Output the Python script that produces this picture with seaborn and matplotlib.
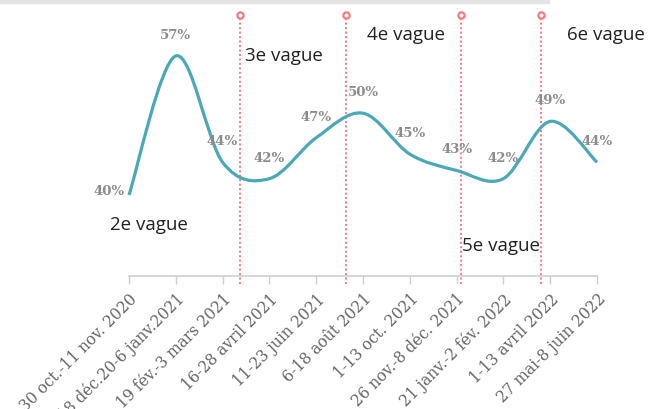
import numpy as np
import matplotlib
matplotlib.use("Agg")
import matplotlib.pyplot as plt
import seaborn as sns
from matplotlib.path import Path
from matplotlib.patches import PathPatch, Rectangle

periods = ["30 oct.-11 nov. 2020", "18 déc.20-6 janv.2021", "19 fév.-3 mars 2021",
           "16-28 avril 2021", "11-23 juin 2021", "6-18 août 2021", "1-13 oct. 2021",
           "26 nov.-8 déc. 2021", "21 janv.-2 fév. 2022", "1-13 avril 2022",
           "27 mai-8 juin 2022"]
shares = [40, 57, 44, 42, 47, 50, 45, 43, 42, 49, 44]

wave_starts = [2.37, 4.64, 7.09, 8.80]
wave_names = ["2e vague", "3e vague", "4e vague", "5e vague", "6e vague"]
wave_label_x = [-0.41, 2.48, 5.09, 7.12, 9.36]
wave_label_y = [36.4, 57.1, 59.7, 33.9, 59.7]

LINE_COLOR = "#4ba8b7"
WAVE_COLOR = "#f77b7b"

sns.set_theme(style="white")
plt.rcParams["font.family"] = ["DejaVu Serif"]

fig = plt.figure(figsize=(6.63, 4.10), dpi=100)
ax = fig.add_axes([0, 133 / 410, 1, 277 / 410])
ax.set_xlim(-129 / 46.8, (663 - 129) / 46.8)
ax.set_ylim(40 - 81 / 8.18, 40 + 196 / 8.18)

# grey strip at top of the page
fig.patches.append(Rectangle((0, 406 / 410), 549 / 663, 4 / 410,
                             transform=fig.transFigure, color="#e4e4e4", zorder=0))

# smooth catmull-rom curve as bezier path
x = np.arange(len(shares), dtype=float)
y = np.array(shares, dtype=float)
pts = np.column_stack([x, y])
ext = np.vstack([pts[0], pts, pts[-1]])
verts = [tuple(pts[0])]
codes = [Path.MOVETO]
for i in range(len(pts) - 1):
    p0, p1, p2, p3 = ext[i], ext[i + 1], ext[i + 2], ext[i + 3]
    c1 = p1 + (p2 - p0) / 6
    c2 = p2 - (p3 - p1) / 6
    verts += [tuple(c1), tuple(c2), tuple(p2)]
    codes += [Path.CURVE4] * 3
ax.add_patch(PathPatch(Path(verts, codes), facecolor="none",
                       edgecolor=LINE_COLOR, lw=2.3, capstyle="butt", zorder=3))

# value labels
for i, v in enumerate(shares):
    if i == 0:
        ax.annotate(f"{v}%", (i, v), xytext=(-3, 3), textcoords="offset points",
                    ha="right", va="center", fontsize=9.5, fontweight="bold",
                    color="#8c8c8c", zorder=4)
    else:
        ax.annotate(f"{v}%", (i, v), xytext=(0, 15.5), textcoords="offset points",
                    ha="center", va="center", fontsize=9.5, fontweight="bold",
                    color="#8c8c8c", zorder=4)

# wave start lines
y_top = 40 + (196 - 16) / 8.18
y_bot = 40 - (285 - 196) / 8.18
for ws in wave_starts:
    ax.plot([ws, ws], [y_bot, y_top], color=WAVE_COLOR, lw=1.4,
            linestyle=(0, (1, 1.3)), clip_on=False, zorder=2)
    ax.plot([ws], [y_top], marker="o", markersize=4.5, markerfacecolor="white",
            markeredgecolor=WAVE_COLOR, markeredgewidth=1.6, clip_on=False, zorder=5)

for name, lx, ly in zip(wave_names, wave_label_x, wave_label_y):
    ax.text(lx, ly, name, ha="left", va="center", fontsize=13.5,
            family=["Open Sans", "DejaVu Sans"], color="#222222")

# axis
sns.despine(ax=ax, left=True)
ax.spines["bottom"].set_color("#cfcfcf")
ax.spines["bottom"].set_linewidth(1.2)
ax.spines["bottom"].set_bounds(0, len(periods) - 1)
ax.set_yticks([])
ax.set_xticks(x)
ax.set_xticklabels(periods, rotation=45, ha="right", rotation_mode="anchor",
                   fontsize=11.2, color="#666666")
ax.tick_params(axis="x", bottom=True, length=6, width=1, color="#cfcfcf", pad=4)
ax.grid(False)
ax.patch.set_alpha(0)

fig.savefig("out.png", dpi=100)
